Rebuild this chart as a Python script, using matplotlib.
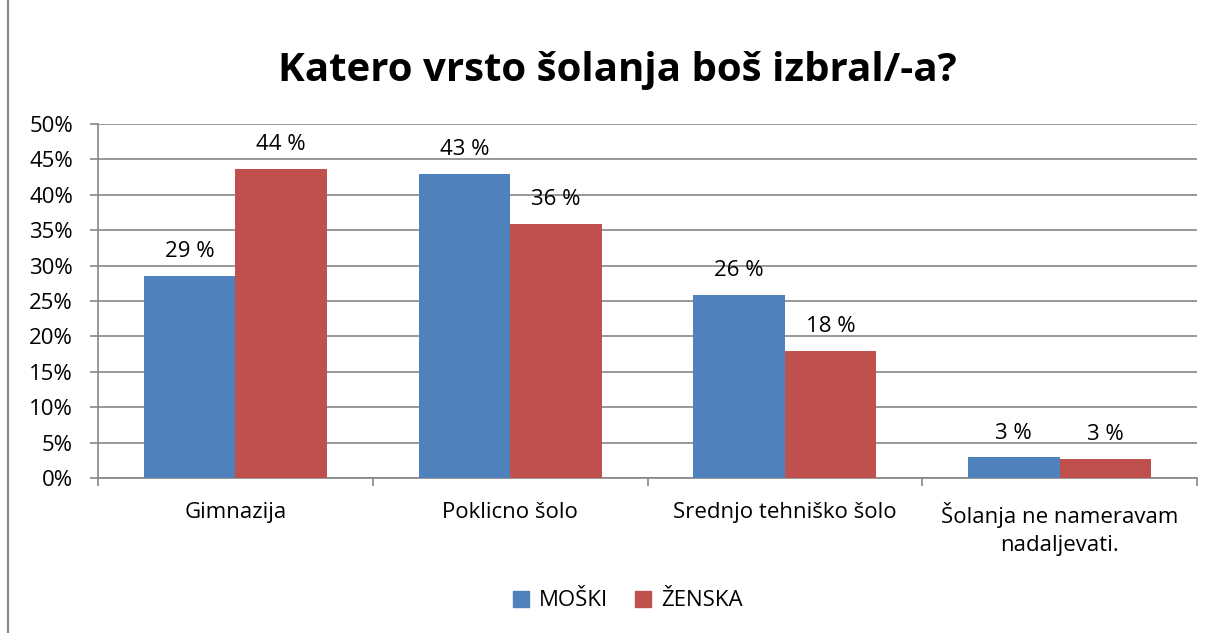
import matplotlib.pyplot as plt
import numpy as np
from matplotlib.lines import Line2D

plt.rcParams['font.family'] = ['Open Sans', 'DejaVu Sans']

# podatki
kategorije = ['Gimnazija', 'Poklicno šolo', 'Srednjo tehniško šolo',
              'Šolanja ne nameravam\nnadaljevati.']
moski = [28.6, 42.9, 25.8, 2.9]
zenska = [43.6, 35.9, 18.0, 2.7]
moski_oznake = ['29 %', '43 %', '26 %', '3 %']
zenska_oznake = ['44 %', '36 %', '18 %', '3 %']

modra = '#4F81BD'
rdeca = '#C0504D'
siva = '#868686'
fs = 16

fig = plt.figure(figsize=(12.17, 6.33), dpi=100)
ax = fig.add_axes([98 / 1217, 1 - 478 / 633, 1099 / 1217, 354 / 633])

x = np.arange(len(kategorije))
w = 1 / 3
b1 = ax.bar(x - w / 2, moski, width=w, color=modra, zorder=3)
b2 = ax.bar(x + w / 2, zenska, width=w, color=rdeca, zorder=3)

for bars, labels in ((b1, moski_oznake), (b2, zenska_oznake)):
    for bar, lab in zip(bars, labels):
        ax.annotate(lab, (bar.get_x() + bar.get_width() / 2, bar.get_height()),
                    xytext=(0, 10), textcoords='offset points',
                    ha='center', va='bottom', fontsize=fs)

ax.set_xlim(-0.5, 3.5)
ax.set_ylim(0, 50)
ax.set_yticks(np.arange(0, 51, 5))
ax.set_yticklabels([f'{v}%' for v in range(0, 51, 5)], fontsize=fs)
ax.yaxis.grid(True, color=siva, lw=1.2, zorder=0)

# kategorije na x osi, kljukice na mejah
ax.set_xticks(np.arange(-0.5, 4, 1))
ax.set_xticklabels([])
ax.set_xticks(x, minor=True)
ax.set_xticklabels(kategorije, minor=True, fontsize=fs, va='top', linespacing=1.45)
ax.tick_params(axis='x', which='minor', length=0, pad=17)
ax.tick_params(axis='x', which='major', length=6, color=siva, width=1.2)
ax.tick_params(axis='y', length=6, color=siva, width=1.2, pad=12)

for s in ['top', 'right']:
    ax.spines[s].set_visible(False)
for s in ['left', 'bottom']:
    ax.spines[s].set_color(siva)
    ax.spines[s].set_linewidth(1.2)

fig.text(0.507, 1 - 71 / 633, 'Katero vrsto šolanja boš izbral/-a?',
         ha='center', va='center', fontsize=29, fontweight='bold')

handles = [Line2D([], [], marker='s', ls='', color=modra, markersize=11),
           Line2D([], [], marker='s', ls='', color=rdeca, markersize=11)]
fig.legend(handles, ['MOŠKI', 'ŽENSKA'], loc='center', ncol=2,
           bbox_to_anchor=(0.51, 1 - 601 / 633), frameon=False,
           fontsize=fs, handletextpad=-0.2, columnspacing=0.6)

# okvir grafikona
fig.add_artist(Line2D([8 / 1217, 8 / 1217], [0, 1], color=siva, lw=1.5))

fig.savefig('out.png', dpi=100)
